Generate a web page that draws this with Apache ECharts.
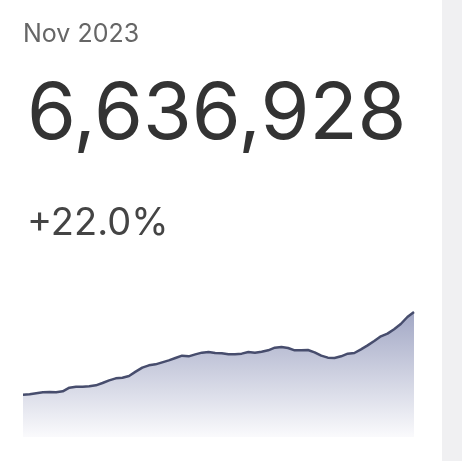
<!DOCTYPE html>
<html>
<head>
<meta charset="utf-8">
<script src="https://cdn.jsdelivr.net/npm/echarts@6/dist/echarts.min.js"></script>
<style>
  html, body { margin: 0; padding: 0; background: #fff; }
  #chart { width: 462px; height: 461px; }
</style>
</head>
<body>
<div id="chart"></div>
<script>
const periodLabel = 'Nov 2023';
const headline = '6,636,928';
const change = '+22.0%';

// monthly totals, millions
const months = Array.from({ length: 60 }, (_, i) => i);
const values = [
  2.248, 2.265, 2.319, 2.372, 2.389, 2.372, 2.425, 2.619, 2.673, 2.673,
  2.690, 2.743, 2.867, 3.009, 3.115, 3.150, 3.239, 3.469, 3.681, 3.805,
  3.858, 3.965, 4.071, 4.195, 4.319, 4.283, 4.389, 4.478, 4.513, 4.460,
  4.442, 4.389, 4.389, 4.425, 4.513, 4.478, 4.531, 4.602, 4.743, 4.779,
  4.726, 4.602, 4.602, 4.619, 4.496, 4.319, 4.212, 4.195, 4.283, 4.425,
  4.460, 4.655, 4.867, 5.097, 5.345, 5.487, 5.717, 6.000, 6.372, 6.637
];

const textFont = 'Inter, "Liberation Sans", Arial, sans-serif';

const chart = echarts.init(document.getElementById('chart'));
chart.setOption({
  backgroundColor: '#fff',
  animation: false,
  grid: { left: 23, right: 48, top: 312, bottom: 24 },
  xAxis: {
    type: 'category',
    data: months,
    boundaryGap: false,
    show: false
  },
  yAxis: {
    type: 'value',
    min: 0,
    max: 'dataMax',
    show: false
  },
  series: [
    {
      type: 'line',
      data: values,
      showSymbol: false,
      lineStyle: { color: '#474d6d', width: 2.5 },
      areaStyle: {
        color: new echarts.graphic.LinearGradient(0, 0, 0, 1, [
          { offset: 0, color: '#7a82ac' },
          { offset: 1, color: '#f8f8fb' }
        ])
      }
    }
  ],
  graphic: [
    {
      type: 'rect',
      shape: { x: 442, y: 0, width: 20, height: 461 },
      style: { fill: '#f0f0f2' }
    },
    {
      type: 'text',
      style: { text: periodLabel, x: 23, y: 34, verticalAlign: 'middle',
        font: '25px ' + textFont, fill: '#666' }
    },
    {
      type: 'text',
      style: { text: headline, x: 27, y: 115.5, verticalAlign: 'middle',
        font: '79px ' + textFont, fill: '#333' }
    },
    {
      type: 'text',
      style: { text: change, x: 27, y: 224, verticalAlign: 'middle',
        font: '38px ' + textFont, fill: '#444' }
    }
  ]
});
</script>
</body>
</html>
